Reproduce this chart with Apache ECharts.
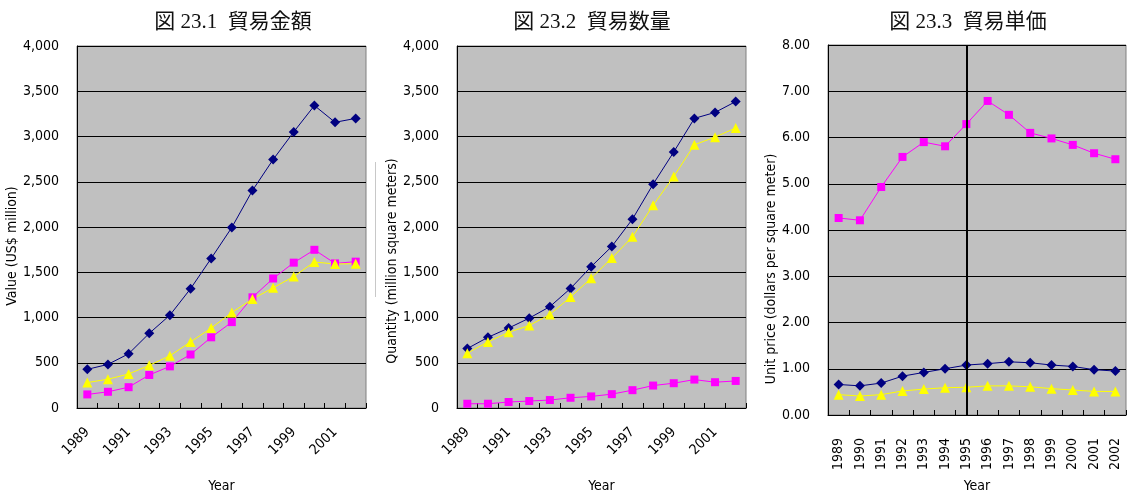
<!DOCTYPE html>
<html>
<head>
<meta charset="utf-8">
<script src="https://cdn.jsdelivr.net/npm/echarts@6/dist/echarts.min.js"></script>
<style>
  html, body { margin: 0; padding: 0; background: #fff; }
  #chart { width: 1129px; height: 498px; }
</style>
</head>
<body>
<div id="chart"></div>
<script>
// years on all three x axes
const years = ['1989', '1990', '1991', '1992', '1993', '1994', '1995', '1996', '1997', '1998', '1999', '2000', '2001', '2002'];

// 図23.1 trade value (US$ million)
const valueBlue = [427, 482, 599, 825, 1026, 1318, 1653, 1995, 2404, 2745, 3051, 3342, 3157, 3200];
const valueMagenta = [150, 179, 230, 365, 460, 591, 781, 949, 1223, 1431, 1606, 1748, 1598, 1617];
const valueYellow = [281, 318, 376, 471, 577, 730, 883, 1055, 1204, 1328, 1453, 1613, 1591, 1595];

// 図23.2 trade quantity (million square meters)
const qtyBlue = [657, 781, 883, 993, 1120, 1321, 1562, 1785, 2087, 2473, 2829, 3200, 3266, 3386];
const qtyMagenta = [47, 47, 66, 77, 88, 113, 128, 153, 197, 248, 274, 314, 285, 299];
const qtyYellow = [606, 730, 836, 912, 1033, 1226, 1434, 1657, 1891, 2240, 2557, 2909, 2993, 3094];

// 図23.3 unit price (dollars per square meter)
const priceBlue = [0.66, 0.63, 0.69, 0.84, 0.92, 1.00, 1.08, 1.11, 1.15, 1.13, 1.08, 1.05, 0.98, 0.95];
const priceMagenta = [4.26, 4.21, 4.93, 5.58, 5.90, 5.81, 6.29, 6.79, 6.49, 6.10, 5.98, 5.84, 5.66, 5.53];
const priceYellow = [0.44, 0.41, 0.44, 0.52, 0.56, 0.59, 0.60, 0.63, 0.63, 0.61, 0.57, 0.54, 0.51, 0.51];

const titles = ['図 23.1  貿易金額', '図 23.2  貿易数量', '図 23.3  貿易単価'];
const yNames = ['Value (US$ million)', 'Quantity (million square meters)', 'Unit price (dollars per square meter)'];

const NAVY = '#000080', PINK = '#FF00FF', YELLOW = '#FFFF00';
const narrow = "'DejaVu Sans Condensed', 'Liberation Sans', sans-serif";

let chart = echarts.init(document.getElementById('chart'));

function xAxisFor(idx, rotate, labelInterval, margin, nameGap) {
    return {
        type: 'category',
        gridIndex: idx,
        data: years,
        boundaryGap: true,
        axisLine: {lineStyle: {color: '#000', width: 1}},
        axisTick: {show: true, inside: true, length: 5, interval: 0, lineStyle: {color: '#000'}},
        axisLabel: {
            interval: labelInterval,
            rotate: rotate,
            margin: margin,
            color: '#000',
            fontFamily: narrow,
            fontSize: 14
        },
        name: 'Year',
        nameLocation: 'middle',
        nameGap: nameGap,
        nameTextStyle: {color: '#000', fontFamily: narrow, fontSize: 14}
    };
}

function yAxisFor(idx, max, interval, fmt, nameGap, shift) {
    return {
        type: 'value',
        gridIndex: idx,
        min: 0,
        max: max,
        interval: interval,
        axisLine: {show: true, lineStyle: {color: '#000', width: 1}},
        axisTick: {show: false},
        splitLine: {lineStyle: {color: '#000', width: 1}},
        axisLabel: {margin: 18, color: '#000', fontFamily: narrow, fontSize: 14, formatter: fmt},
        name: yNames[idx],
        nameLocation: 'middle',
        nameGap: nameGap,
        nameTextStyle: {color: '#000', fontFamily: narrow, fontSize: 14, padding: [0, shift, 0, 0]}
    };
}

function lineSeries(idx, data, color, symbol, size, extra) {
    return Object.assign({
        type: 'line',
        xAxisIndex: idx,
        yAxisIndex: idx,
        data: data,
        symbol: symbol,
        symbolSize: size,
        showSymbol: true,
        lineStyle: {color: color, width: 1},
        itemStyle: {color: color},
        z: 3
    }, extra || {});
}

const commas = v => v.toLocaleString('en-US');
const twoDp = v => v.toFixed(2);

const option = {
    animation: false,
    backgroundColor: '#fff',
    grid: [
        {left: 77, top: 46, width: 289, height: 366, show: true, backgroundColor: '#C0C0C0', borderColor: '#808080', borderWidth: 1},
        {left: 457, top: 46, width: 289, height: 366, show: true, backgroundColor: '#C0C0C0', borderColor: '#808080', borderWidth: 1},
        {left: 828, top: 45, width: 298, height: 374, show: true, backgroundColor: '#C0C0C0', borderColor: '#808080', borderWidth: 1}
    ],
    xAxis: [
        xAxisFor(0, 45, 1, 22, 71),
        xAxisFor(1, 45, 1, 22, 71),
        xAxisFor(2, 90, 0, 23, 64)
    ],
    yAxis: [
        yAxisFor(0, 4000, 500, commas, 55, 38),
        yAxisFor(1, 4000, 500, commas, 54, 68),
        yAxisFor(2, 8, 1, twoDp, 46, 78)
    ],
    graphic: [
        {type: 'text', x: 233, y: 22, style: {text: titles[0], align: 'center', verticalAlign: 'middle', font: "21px 'Liberation Serif', 'Noto Sans CJK JP', serif", fill: '#111'}},
        {type: 'text', x: 592, y: 22, style: {text: titles[1], align: 'center', verticalAlign: 'middle', font: "21px 'Liberation Serif', 'Noto Sans CJK JP', serif", fill: '#111'}},
        {type: 'text', x: 968, y: 22, style: {text: titles[2], align: 'center', verticalAlign: 'middle', font: "21px 'Liberation Serif', 'Noto Sans CJK JP', serif", fill: '#111'}},
        {type: 'line', shape: {x1: 375.5, y1: 162, x2: 375.5, y2: 297}, style: {stroke: '#c8c8c8', lineWidth: 1}}
    ],
    series: [
        lineSeries(0, valueBlue, NAVY, 'diamond', 10),
        lineSeries(0, valueMagenta, PINK, 'rect', 8),
        lineSeries(0, valueYellow, YELLOW, 'triangle', 10),

        lineSeries(1, qtyBlue, NAVY, 'diamond', 10),
        lineSeries(1, qtyMagenta, PINK, 'rect', 8),
        lineSeries(1, qtyYellow, YELLOW, 'triangle', 10),

        lineSeries(2, priceBlue, NAVY, 'diamond', 10, {
            markLine: {
                silent: true,
                symbol: 'none',
                label: {show: false},
                lineStyle: {color: '#000', width: 2, type: 'solid'},
                data: [{xAxis: '1995'}]
            }
        }),
        lineSeries(2, priceMagenta, PINK, 'rect', 8),
        lineSeries(2, priceYellow, YELLOW, 'triangle', 10)
    ]
};

chart.setOption(option);

window.addEventListener('resize', function () {
    chart.resize();
});
</script>
</body>
</html>
